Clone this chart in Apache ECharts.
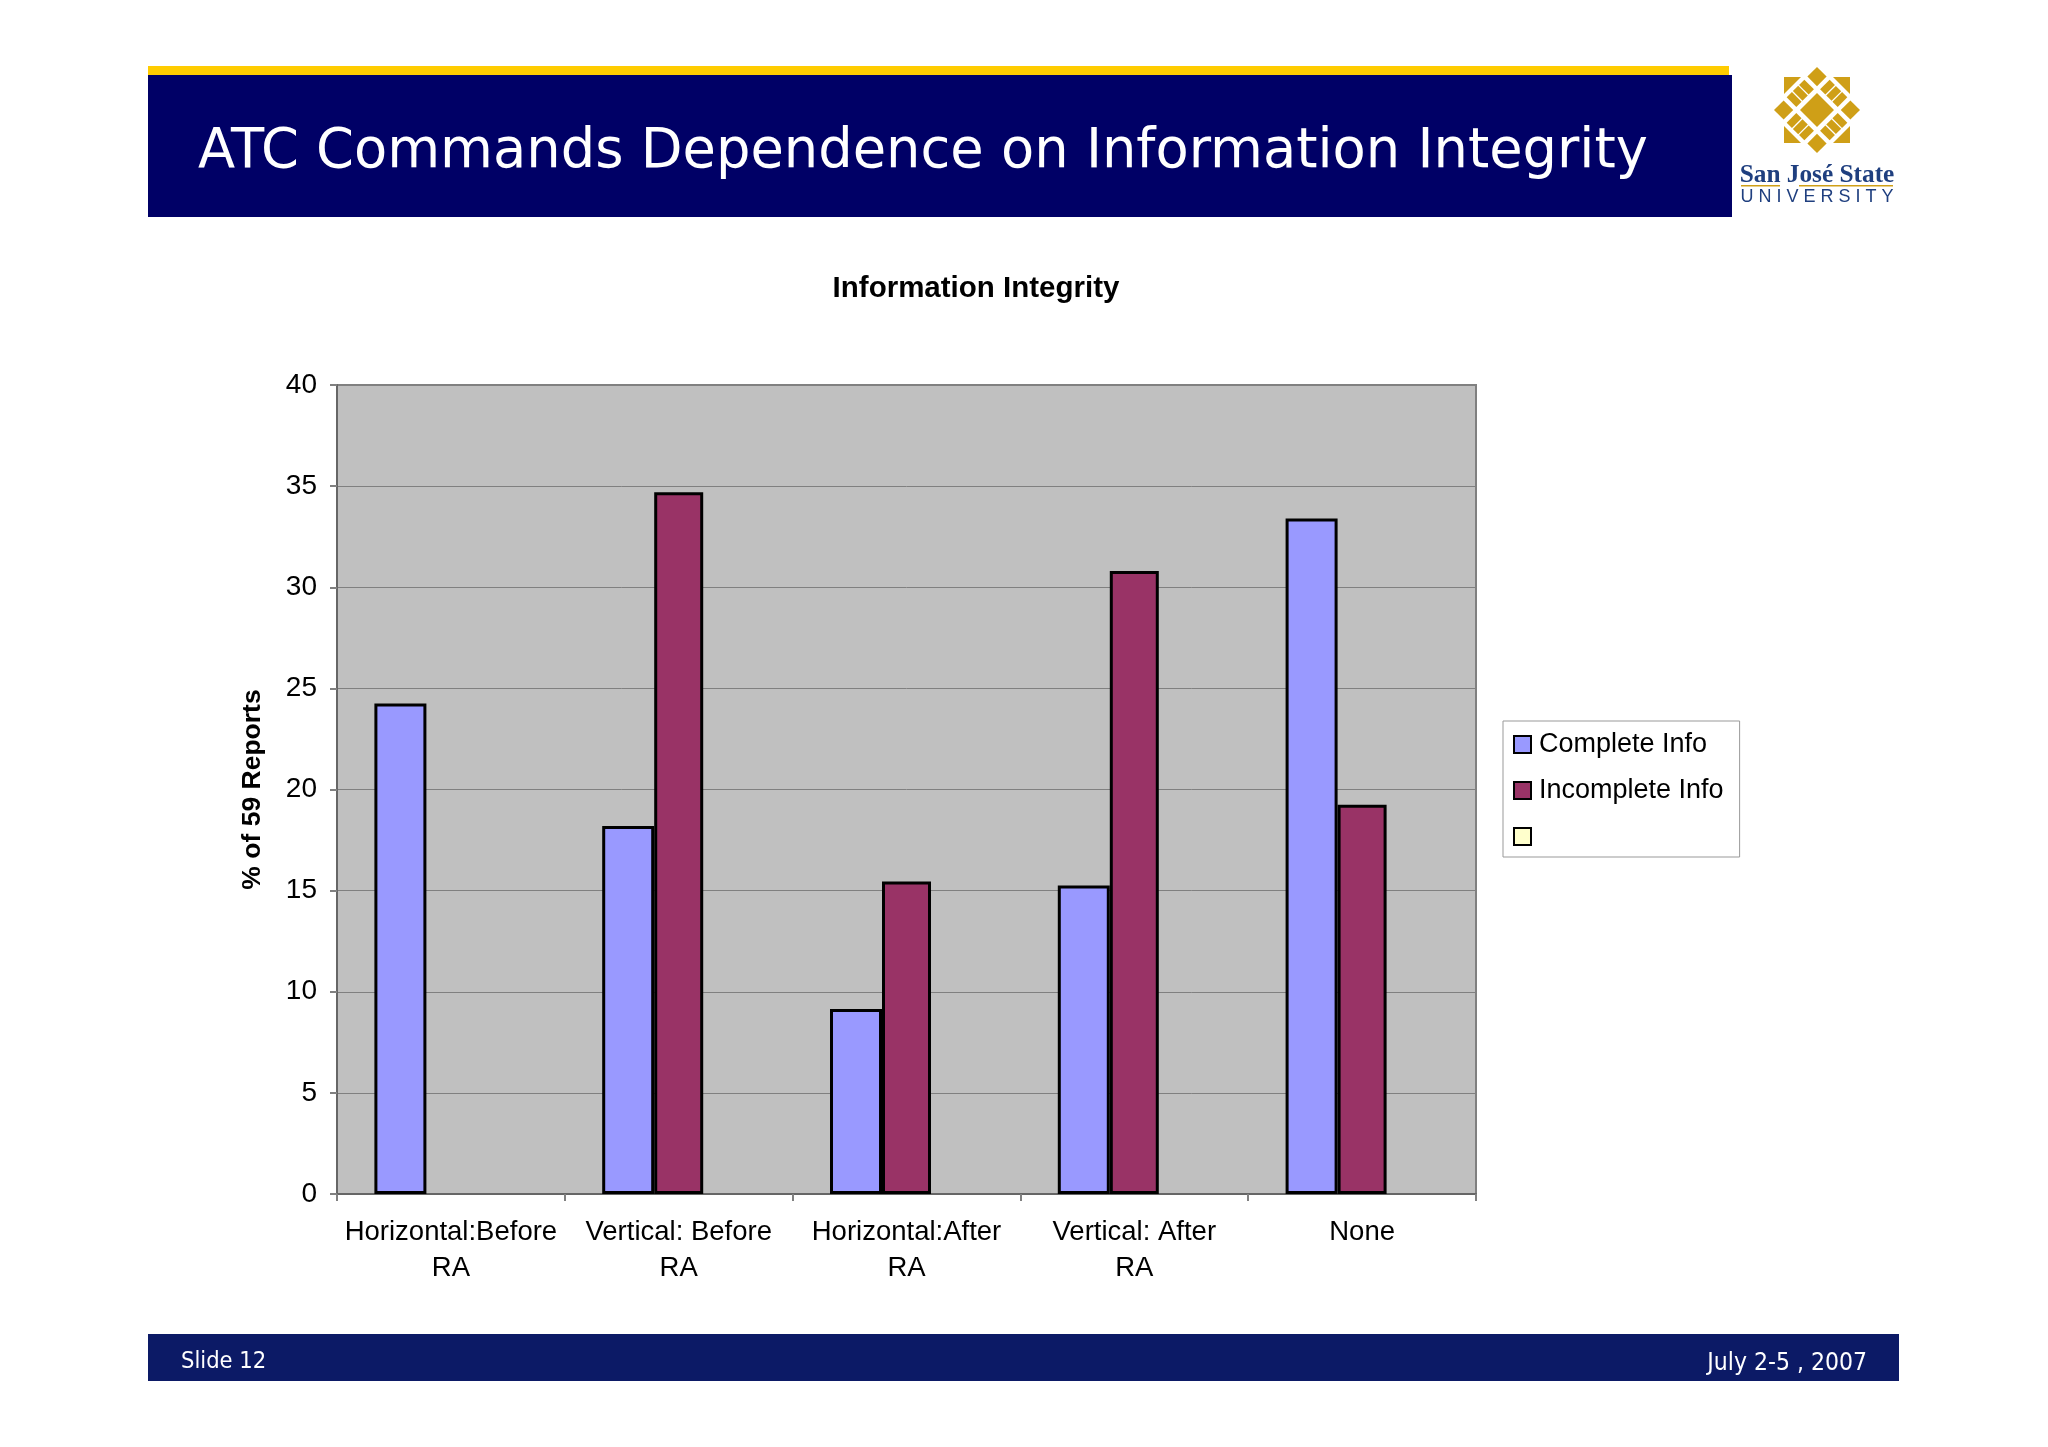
<!DOCTYPE html>
<html>
<head>
<meta charset="utf-8">
<title>ATC Commands Dependence on Information Integrity</title>
<script src="https://cdn.jsdelivr.net/npm/echarts@6/dist/echarts.min.js"></script>
<style>
html,body{margin:0;padding:0;background:#fff;}
#box{width:2048px;height:1447px;}
</style>
</head>
<body>
<div id="box"></div>
<script>
//数据项
var categories = ['Horizontal:Before\nRA', 'Vertical: Before\nRA', 'Horizontal:After\nRA', 'Vertical: After\nRA', 'None'];
var completeInfo = [24.25, 18.2, 9.15, 15.25, 33.4];
var incompleteInfo = [null, 34.7, 15.45, 30.8, 19.25];
var emptySeries = [null, null, null, null, null];
var seriesNames = ['Complete Info', 'Incomplete Info', ' '];

var slideTitle = 'ATC Commands Dependence on Information Integrity';
var chartTitle = 'Information Integrity';
var yAxisName = '% of 59 Reports';
var footerLeft = 'Slide 12';
var footerRight = 'July 2-5 , 2007';

var arial = '"Liberation Sans", Arial, sans-serif';
var gold = '#cf9f17';

// logo: rotated rects around the centre
function logoRect(u, v, w, h) {
	return {type: 'rect', shape: {x: u, y: v, width: w, height: h}, style: {fill: gold}};
}
function logoTriangle(sx, sy) {
	return {
		type: 'polygon',
		x: 1817, y: 110,
		shape: {points: [[sx * 33, sy * 33], [sx * 16, sy * 33], [sx * 33, sy * 16]]},
		style: {fill: gold}
	};
}
var logoCells = [logoRect(-12, -12, 24, 24)];
[-30.4, 16.8].forEach(function (a) {
	[-30.4, 16.8].forEach(function (b) {
		logoCells.push(logoRect(a, b, 13.6, 13.6));
	});
	[-12.5, -3.7, 5].forEach(function (b) {
		logoCells.push(logoRect(a, b, 13.6, 7.5));
		logoCells.push(logoRect(b, a, 7.5, 13.6));
	});
});

var option = {
	animation: false,
	backgroundColor: '#fff',
	title: {
		text: chartTitle,
		left: 971, top: 269, textAlign: 'center',
		textStyle: {fontFamily: arial, fontSize: 29.5, fontWeight: 'bold', color: '#000'}
	},
	legend: {
		orient: 'vertical',
		left: 1503, top: 721,
		padding: [10, 16, 7, 10],
		itemWidth: 17, itemHeight: 17, itemGap: 19,
		icon: 'rect',
		borderColor: '#999', borderWidth: 1,
		data: seriesNames,
		textStyle: {fontFamily: arial, fontSize: 27, color: '#000', padding: [0, 0, 0, 3]}
	},
	grid: {
		left: 337, right: 572, top: 385, bottom: 253,
		show: true, backgroundColor: '#c0c0c0', borderColor: '#808080', borderWidth: 2
	},
	xAxis: {
		type: 'category',
		data: categories,
		axisLine: {lineStyle: {color: '#666', width: 2}},
		axisTick: {show: true, length: 7, lineStyle: {color: '#808080', width: 2}},
		axisLabel: {fontFamily: arial, fontSize: 27.5, color: '#000', margin: 20, lineHeight: 36, interval: 0}
	},
	yAxis: {
		type: 'value',
		min: 0, max: 40, interval: 5,
		name: yAxisName,
		nameLocation: 'middle',
		nameGap: 71,
		nameTextStyle: {fontFamily: arial, fontSize: 26.5, fontWeight: 'bold', color: '#000'},
		axisLine: {show: true, lineStyle: {color: '#666', width: 2}},
		axisTick: {show: true, length: 7, lineStyle: {color: '#808080', width: 2}},
		axisLabel: {fontFamily: arial, fontSize: 28, color: '#000', margin: 20},
		splitLine: {lineStyle: {color: '#808080', width: 1}}
	},
	series: [
		{
			name: seriesNames[0], type: 'bar', data: completeInfo,
			barGap: 0, barWidth: 52,
			itemStyle: {color: '#9999ff', borderColor: '#000', borderWidth: 3}
		},
		{
			name: seriesNames[1], type: 'bar', data: incompleteInfo,
			barWidth: 49,
			itemStyle: {color: '#993366', borderColor: '#000', borderWidth: 3}
		},
		{
			name: seriesNames[2], type: 'bar', data: emptySeries,
			barWidth: 52,
			itemStyle: {color: '#ffffcc', borderColor: '#000', borderWidth: 3}
		}
	],
	graphic: [
		{type: 'rect', shape: {x: 148, y: 66, width: 1581, height: 9}, style: {fill: '#ffcc00'}},
		{type: 'rect', shape: {x: 148, y: 75, width: 1584, height: 142}, style: {fill: '#000066'}},
		{
			type: 'text', x: 198, y: 153,
			style: {text: slideTitle, fill: '#fff', font: '54.3px "DejaVu Sans"', textVerticalAlign: 'middle'}
		},
		{type: 'rect', shape: {x: 148, y: 1334, width: 1751, height: 47}, style: {fill: '#0c1a66'}},
		{
			type: 'text', x: 181, y: 1362,
			style: {text: footerLeft, fill: '#fff', font: '23.5px "DejaVu Sans Condensed"', textVerticalAlign: 'middle'}
		},
		{
			type: 'text', x: 1867, y: 1364,
			style: {text: footerRight, fill: '#fff', font: '24.5px "DejaVu Sans Condensed"', textAlign: 'right', textVerticalAlign: 'middle'}
		},
		// logo
		{type: 'group', x: 1817, y: 110, rotation: Math.PI / 4, children: logoCells},
		logoTriangle(-1, -1), logoTriangle(1, -1), logoTriangle(-1, 1), logoTriangle(1, 1),
		{
			type: 'text', x: 1817, y: 175,
			style: {text: 'San José State', fill: '#1f3f7f', font: 'bold 25.3px "Liberation Serif"', textAlign: 'center', textVerticalAlign: 'middle'}
		},
		{type: 'rect', shape: {x: 1741, y: 185, width: 39, height: 1.5}, style: {fill: gold}},
		{type: 'rect', shape: {x: 1799, y: 185, width: 94, height: 1.5}, style: {fill: gold}},
		{
			type: 'text', x: 1817, y: 197,
			style: {text: 'U N I V E R S I T Y', fill: '#1f3f7f', font: '18px "Liberation Sans"', textAlign: 'center', textVerticalAlign: 'middle'}
		}
	]
};

var chart = echarts.init(document.getElementById('box'));
chart.setOption(option);
</script>
</body>
</html>
